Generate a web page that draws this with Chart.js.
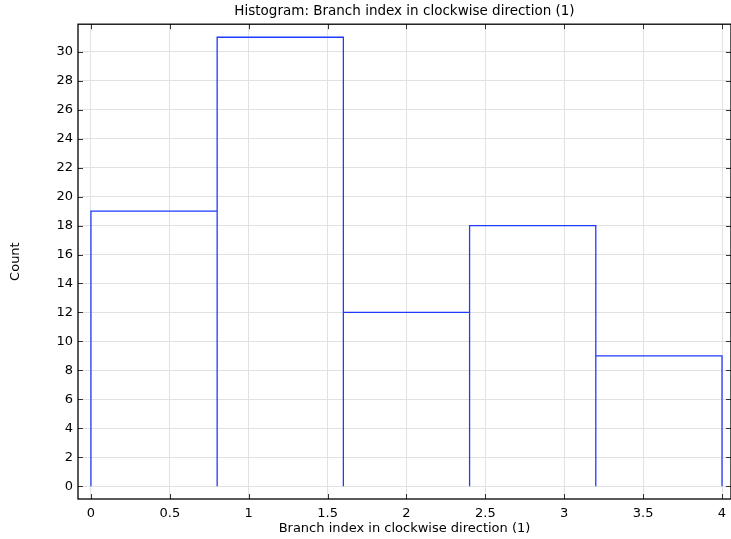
<!DOCTYPE html>
<html>
<head>
<meta charset="utf-8">
<script src="https://cdn.jsdelivr.net/npm/chart.js@4"></script>
<style>
  html, body { margin: 0; padding: 0; background: #fff; }
  #wrap { width: 731px; height: 539px; }
</style>
</head>
<body>
<div id="wrap"><canvas id="histChart" width="731" height="539"></canvas></div>
<script>
// Histogram bins (edges) and counts
const binEdges = [0, 0.8, 1.6, 2.4, 3.2, 4.0];
const counts = [19, 31, 12, 18, 9];

const xTicks = [0, 0.5, 1, 1.5, 2, 2.5, 3, 3.5, 4];
const yTicks = [0, 2, 4, 6, 8, 10, 12, 14, 16, 18, 20, 22, 24, 26, 28, 30];

// each bin is drawn as an open rectangle: up, across, down
function buildOutline() {
    const pts = [];
    for (let i = 0; i < counts.length; i++) {
        pts.push({ x: binEdges[i], y: 0 });
        pts.push({ x: binEdges[i], y: counts[i] });
        pts.push({ x: binEdges[i + 1], y: counts[i] });
        pts.push({ x: binEdges[i + 1], y: 0 });
    }
    return pts;
}

const font = { family: 'DejaVu Sans', size: 13 };

// ticks drawn inward on all four sides, like the original plot frame
const innerTicks = {
    id: 'innerTicks',
    afterDraw(chart) {
        const ctx = chart.ctx;
        const a = chart.chartArea;
        const xs = chart.scales.x, ys = chart.scales.y;
        ctx.save();
        ctx.strokeStyle = '#333';
        ctx.lineWidth = 1;
        ctx.beginPath();
        xTicks.forEach(v => {
            const px = Math.round(xs.getPixelForValue(v)) + 0.5;
            ctx.moveTo(px, a.bottom); ctx.lineTo(px, a.bottom - 5);
            ctx.moveTo(px, a.top); ctx.lineTo(px, a.top + 5);
        });
        yTicks.forEach(v => {
            const py = Math.round(ys.getPixelForValue(v)) + 0.5;
            ctx.moveTo(a.left, py); ctx.lineTo(a.left + 5, py);
            ctx.moveTo(a.right, py); ctx.lineTo(a.right - 5, py);
        });
        ctx.stroke();
        // frame
        ctx.strokeStyle = '#000';
        ctx.lineWidth = 1.3;
        ctx.strokeRect(a.left, a.top, a.right - a.left, a.bottom - a.top);
        ctx.restore();
    }
};

new Chart(document.getElementById('histChart').getContext('2d'), {
    type: 'scatter',
    data: {
        datasets: [{
            data: buildOutline(),
            showLine: true,
            borderColor: '#1f3bff',
            borderWidth: 1.3,
            pointRadius: 0,
            fill: false,
            tension: 0
        }]
    },
    options: {
        responsive: false,
        animation: false,
        layout: { padding: { left: 8, right: 0, top: 0, bottom: 0 } },
        plugins: {
            legend: { display: false },
            tooltip: { enabled: false },
            title: {
                display: true,
                fullSize: false,
                text: 'Histogram: Branch index in clockwise direction (1)',
                color: '#000',
                font: { family: 'DejaVu Sans', size: 13.5, weight: 'normal' },
                padding: { top: 3, bottom: 5 }
            }
        },
        scales: {
            x: {
                type: 'linear',
                min: -0.082,
                max: 4.057,
                afterBuildTicks: s => { s.ticks = xTicks.map(v => ({ value: v })); },
                afterFit: s => { s.height = 40; s.paddingLeft = 0; s.paddingRight = 0; },
                ticks: { color: '#000', font: font, padding: 7, maxRotation: 0,
                         callback: v => String(v) },
                grid: { color: '#e2e2e2', drawTicks: false },
                border: { display: false },
                title: {
                    display: true,
                    text: 'Branch index in clockwise direction (1)',
                    color: '#000',
                    font: font,
                    padding: { top: 0, bottom: 3 }
                }
            },
            y: {
                type: 'linear',
                min: -0.88,
                max: 31.9,
                afterBuildTicks: s => { s.ticks = yTicks.map(v => ({ value: v })); },
                afterFit: s => { s.width = 70; s.paddingTop = 0; s.paddingBottom = 0; },
                ticks: { color: '#000', font: font, padding: 5,
                         callback: v => String(v) },
                grid: { color: '#e2e2e2', drawTicks: false },
                border: { display: false },
                title: {
                    display: true,
                    text: 'Count',
                    color: '#000',
                    font: font,
                    padding: { top: 0, bottom: 0 }
                }
            }
        }
    },
    plugins: [innerTicks]
});
</script>
</body>
</html>
